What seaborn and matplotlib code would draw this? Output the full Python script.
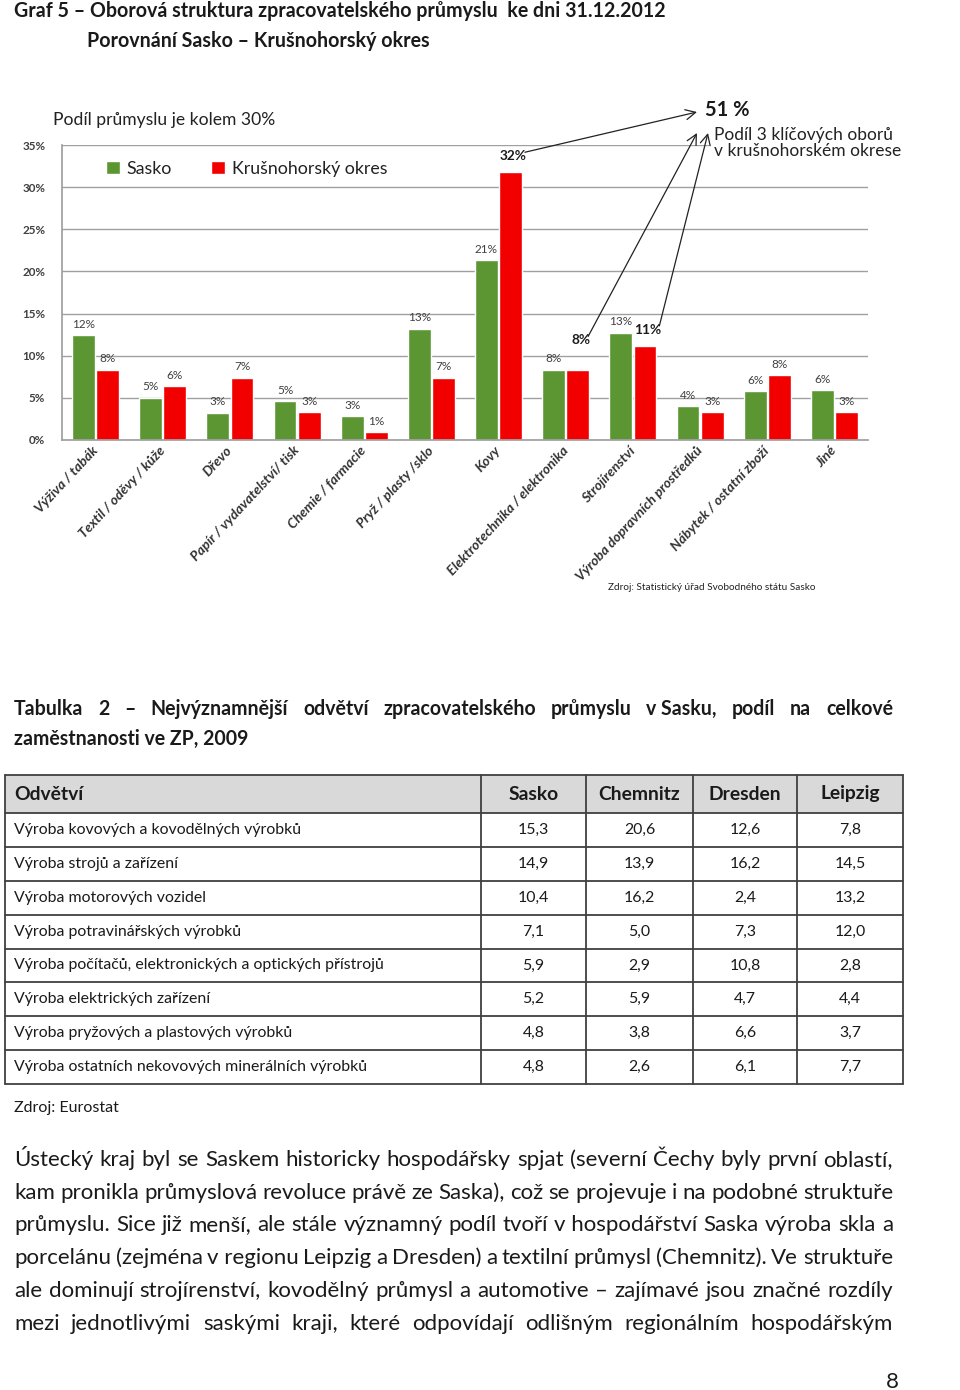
import matplotlib
matplotlib.use("Agg")
import matplotlib.pyplot as plt
from matplotlib.patches import Rectangle
import pandas as pd
import seaborn as sns

W, H = 960, 1390

# Graf 5 - share of employment by sector (%)
sectors = ["Výživa / tabák", "Textil / oděvy / kůže", "Dřevo", "Papír / vydavatelství/ tisk",
           "Chemie / farmacie", "Pryž / plasty /sklo", "Kovy", "Elektrotechnika / elektronika",
           "Strojírenství", "Výroba dopravních prostředků", "Nábytek / ostatní zboží", "Jiné"]
share_sasko = [12.4, 5.0, 3.2, 4.6, 2.8, 13.2, 21.3, 8.3, 12.7, 4.0, 5.8, 5.9]
share_krusno = [8.3, 6.4, 7.4, 3.3, 0.9, 7.4, 31.8, 8.3, 11.2, 3.3, 7.7, 3.3]
series = ["Sasko", "Krušnohorský okres"]
key_sectors = ["Kovy", "Elektrotechnika / elektronika", "Strojírenství"]
pct_ticks = [0, 5, 10, 15, 20, 25, 30, 35]

# Tabulka 2
table_cols = ["Odvětví", "Sasko", "Chemnitz", "Dresden", "Leipzig"]
table_rows = ["Výroba kovových a kovodělných výrobků",
              "Výroba strojů a zařízení",
              "Výroba motorových vozidel",
              "Výroba potravinářských výrobků",
              "Výroba počítačů, elektronických a optických přístrojů",
              "Výroba elektrických zařízení",
              "Výroba pryžových a plastových výrobků",
              "Výroba ostatních nekovových minerálních výrobků"]
col_sasko = [15.3, 14.9, 10.4, 7.1, 5.9, 5.2, 4.8, 4.8]
col_chemnitz = [20.6, 13.9, 16.2, 5.0, 2.9, 5.9, 3.8, 2.6]
col_dresden = [12.6, 16.2, 2.4, 7.3, 10.8, 4.7, 6.6, 6.1]
col_leipzig = [7.8, 14.5, 13.2, 12.0, 2.8, 4.4, 3.7, 7.7]

caption = ["Tabulka 2 – Nejvýznamnější odvětví zpracovatelského průmyslu v\u00a0Sasku, podíl na celkové",
           "zaměstnanosti ve ZP, 2009"]
paragraph = [
    "Ústecký kraj byl se Saskem historicky hospodářsky spjat (severní Čechy byly první oblastí,",
    "kam pronikla průmyslová revoluce právě ze Saska), což se projevuje i na podobné struktuře",
    "průmyslu. Sice již menší, ale stále významný podíl tvoří v\u00a0hospodářství Saska výroba skla a",
    "porcelánu (zejména v\u00a0regionu Leipzig a Dresden) a textilní průmysl (Chemnitz). Ve struktuře",
    "ale dominují strojírenství, kovodělný průmysl a automotive – zajímavé jsou značné rozdíly",
    "mezi jednotlivými saskými kraji, které odpovídají odlišným regionálním hospodářským",
]

GREEN = "#5b9632"
RED = "#f20000"
INK = "#1a1a1a"

sns.set_theme(style="white")
plt.rcParams["font.family"] = ["Lato", "DejaVu Sans"]

fig = plt.figure(figsize=(W / 100, H / 100), dpi=100)
renderer = fig.canvas.get_renderer()


def text_width(s, size, **kw):
    t = fig.text(0, 0, s, fontsize=size, **kw)
    w = t.get_window_extent(renderer).width
    t.remove()
    return w


def fit(s, target, **kw):
    return 20 * target / text_width(s, 20, **kw)


# ---- chart ----
ax = fig.add_axes([62 / W, 1 - 440 / H, 806 / W, 295 / H])
df = pd.DataFrame({
    "Odvětví": sectors * 2,
    "Podíl": share_sasko + share_krusno,
    "Řada": [series[0]] * len(sectors) + [series[1]] * len(sectors),
})
sns.barplot(df, x="Odvětví", y="Podíl", hue="Řada", hue_order=series,
            palette=[GREEN, RED], saturation=1, width=0.72, gap=0.05, ax=ax)
ax.set_xlim(-0.5, len(sectors) - 0.5)
ax.set_ylim(0, 35)
ax.set_yticks(pct_ticks)
ax.set_yticklabels([f"{t}%" for t in pct_ticks], fontsize=fit("35%", 23, fontweight="bold"),
                   fontweight="bold", color="#404040")
ax.tick_params(axis="y", pad=12, length=0)
ax.tick_params(axis="x", length=0, pad=6)
ax.set_xlabel("")
ax.set_ylabel("")
ax.yaxis.grid(True, color="#a0a0a0", lw=1)
ax.set_axisbelow(True)
for s in ["top", "right"]:
    ax.spines[s].set_visible(False)
ax.spines["left"].set_color("#a0a0a0")
ax.spines["bottom"].set_color("#a0a0a0")
xsize = fit("Výroba dopravních prostředků", 178, fontweight="bold", fontstyle="italic")
ax.set_xticks(range(len(sectors)))
ax.set_xticklabels(sectors, rotation=47, ha="right", va="center", rotation_mode="anchor",
                   fontsize=xsize, fontweight="bold", fontstyle="italic", color="#333333")

ax.legend(loc="upper left", bbox_to_anchor=(0.035, 1.0), ncol=2, frameon=False,
          handlelength=0.75, handleheight=0.75, handletextpad=0.4, columnspacing=2.2,
          fontsize=fit("Krušnohorský okres", 156), labelcolor="#222222")

small = fit("21%", 23)
big = fit("32%", 27, fontweight="bold")
key_labels = []
for ci, cont in enumerate(ax.containers):
    for i, (bar, cat) in enumerate(zip(cont, sectors)):
        v = bar.get_height()
        key = ci == 1 and cat in key_sectors
        dy = 7 if key else 4
        # lift the red label when both bars are level so it clears the green one
        if key and abs(share_sasko[i] - share_krusno[i]) < 0.5:
            dy += 10
        t = ax.annotate(f"{v:.0f}%", (bar.get_x() + bar.get_width() / 2, v),
                        xytext=(2 if key else 0, dy), textcoords="offset points",
                        ha="center", va="bottom", fontsize=big if key else small,
                        fontweight="bold" if key else "normal",
                        color=INK if key else "#404040")
        if key:
            key_labels.append(t)

# ---- page overlay in pixel coordinates ----
page = fig.add_axes([0, 0, 1, 1])
page.set_xlim(0, W)
page.set_ylim(H, 0)
page.axis("off")
page.patch.set_alpha(0)

page.text(53, 120, "Podíl průmyslu je kolem 30%", fontsize=fit("Podíl průmyslu je kolem 30%", 222),
          va="center", ha="left", color="#222222")
page.text(705, 110, "51 %", fontsize=fit("51 %", 45, fontweight="bold"), fontweight="bold",
          va="center", ha="left", color=INK)
note_size = fit("Podíl 3 klíčových oborů", 179)
page.text(714, 143, "Podíl 3 klíčových oborů\nv krušnohorském okrese", fontsize=note_size,
          va="center", ha="left", color="#222222", linespacing=1.05,
          bbox=dict(boxstyle="square,pad=0.15", fc="white", ec="none"))
page.text(608, 587, "Zdroj: Statistický úřad Svobodného státu Sasko",
          fontsize=fit("Zdroj: Statistický úřad Svobodného státu Sasko", 207),
          va="center", ha="left", color="#222222")

heads = [(697, 112), (697, 133), (708, 133)]
for lab, head in zip(key_labels, heads):
    ext = lab.get_window_extent(renderer)
    tail = (ext.x1 - 2, H - ext.y1 + 2)
    page.annotate("", xy=head, xytext=tail,
                  arrowprops=dict(arrowstyle="->,head_length=0.6,head_width=0.3",
                                  color="#222222", lw=0.9, shrinkA=0, shrinkB=0))

# ---- page headings ----
hsize = fit("Graf 5 – Oborová struktura zpracovatelského průmyslu  ke dni 31.12.2012", 651,
            fontweight="bold")
page.text(14, 17, "Graf 5 – Oborová struktura zpracovatelského průmyslu  ke dni 31.12.2012",
          fontsize=hsize, fontweight="bold", va="baseline", color=INK)
page.text(87, 47, "Porovnání Sasko – Krušnohorský okres", fontsize=hsize, fontweight="bold",
          va="baseline", color=INK)


def justify(line, x0, x1, y, size, **kw):
    words = line.split(" ")
    widths = [text_width(w, size, **kw) for w in words]
    gap = (x1 - x0 - sum(widths)) / (len(words) - 1)
    x = x0
    for w, wd in zip(words, widths):
        page.text(x, y, w, fontsize=size, va="baseline", ha="left", color=INK, **kw)
        x += wd + gap


csize = fit(caption[1], 234, fontweight="bold")
justify(caption[0], 14, 893, 715, csize, fontweight="bold")
page.text(14, 745, caption[1], fontsize=csize, fontweight="bold", va="baseline", color=INK)

# ---- table ----
col_x = [5, 481, 586, 693, 797, 903]
top, head_bottom = 775, 813
row_h = (1084 - head_bottom) / len(table_rows)
row_y = [top, head_bottom] + [head_bottom + row_h * (i + 1) for i in range(len(table_rows))]
page.add_patch(Rectangle((col_x[0], top), col_x[-1] - col_x[0], head_bottom - top,
                         fc="#d9d9d9", ec="none"))
for y in row_y:
    page.plot([col_x[0], col_x[-1]], [y, y], color="#404040", lw=1.3)
for x in col_x:
    page.plot([x, x], [top, row_y[-1]], color="#404040", lw=1.3)

thsize = fit("Chemnitz", 82, fontweight="bold")
centers = [(col_x[i] + col_x[i + 1]) / 2 for i in range(1, 5)]
page.text(14, (top + head_bottom) / 2, table_cols[0], fontsize=thsize, fontweight="bold",
          va="center", ha="left", color=INK)
for cx, name in zip(centers, table_cols[1:]):
    page.text(cx, (top + head_bottom) / 2, name, fontsize=thsize, fontweight="bold",
              va="center", ha="center", color=INK)

tdsize = fit(table_rows[0], 288)
for i, name in enumerate(table_rows):
    ym = row_y[i + 1] + row_h / 2
    page.text(14, ym, name, fontsize=tdsize, va="center", ha="left", color=INK)
    vals = [col_sasko[i], col_chemnitz[i], col_dresden[i], col_leipzig[i]]
    for cx, v in zip(centers, vals):
        page.text(cx, ym, f"{v:.1f}".replace(".", ","), fontsize=tdsize, va="center",
                  ha="center", color=INK)

page.text(14, 1112, "Zdroj: Eurostat", fontsize=fit("Zdroj: Eurostat", 105), va="baseline",
          color=INK)

# ---- paragraph ----
psize = fit(paragraph[0], 872)
for i, line in enumerate(paragraph):
    justify(line, 14, 893, 1166 + i * 32.7, psize)

page.text(886, 1388, "8", fontsize=psize, va="baseline", ha="left", color=INK)

fig.savefig("out.png", dpi=100)
